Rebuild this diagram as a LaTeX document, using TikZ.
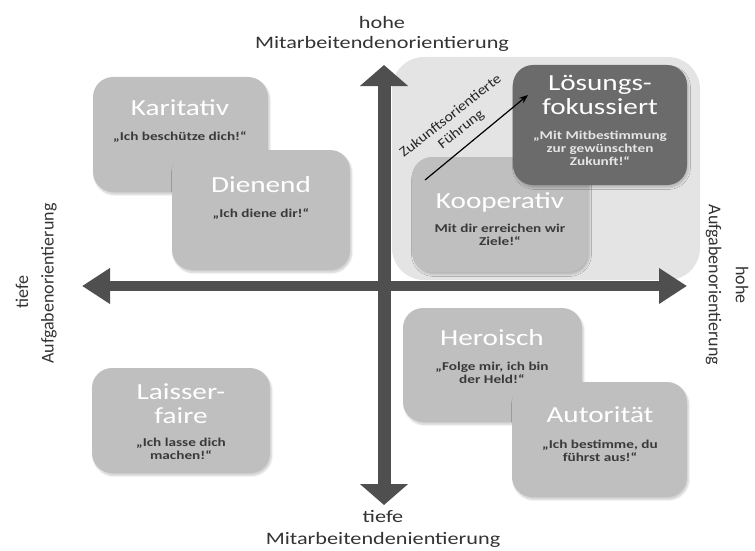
\documentclass[tikz,border=0pt]{standalone}
\usepackage{fontspec}
\setmainfont{Carlito}[FakeStretch=1.27]
\newfontfamily\plainfont{Carlito}
\newfontfamily\diagfont{Carlito}[FakeStretch=1.14]
\usepackage{xcolor}
\usetikzlibrary{arrows.meta,shadows.blur}

\definecolor{boxgray}{HTML}{BFBFBF}
\definecolor{zonegray}{HTML}{E4E4E4}
\definecolor{darkbox}{HTML}{6B6B6B}
\definecolor{axisgray}{HTML}{4F4F4F}
\definecolor{quotegray}{HTML}{3A3A3A}

\tikzset{
  stylebox/.style={fill=boxgray, rounded corners=20pt, inner sep=0pt,
    minimum width=176pt, minimum height=115pt,
    blur shadow={shadow xshift=1.5pt, shadow yshift=-2.5pt, shadow opacity=20, shadow blur steps=6}},
  zonebox/.style={fill=zonegray, rounded corners=32pt, inner sep=0pt},
  boxtitle/.style={text=white, align=center, inner sep=0pt, font=\fontsize{23}{24}\selectfont},
  boxquote/.style={text=quotegray, align=center, inner sep=0pt, font=\bfseries\fontsize{12}{13}\selectfont},
  axislabel/.style={text=black!80, align=center, inner sep=0pt, font=\fontsize{17.5}{20}\selectfont},
  sidelabel/.style={text=black!80, inner sep=0pt, font=\plainfont\fontsize{18}{20}\selectfont},
  axisarrow/.style={draw=axisgray}
}

\begin{document}
\begin{tikzpicture}[x=1pt,y=-1pt]
  \useasboundingbox (0,0) rectangle (755,551);

  \node[zonebox, minimum width=308pt, minimum height=223pt] (zone) at (546,168.5) {};
  \node[stylebox] (koop) at (500,214.5) {};
  \node[boxtitle] (koopT) at (500,202) {Kooperativ};
  \node[boxquote] (koopQ) at (500,235) {Mit dir erreichen wir\\Ziele!“};
  \node[stylebox, fill=darkbox, minimum width=174pt, minimum height=120pt] (loes) at (600,125) {};
  \node[boxtitle] (loesT) at (600,95) {Lösungs-\\fokussiert};
  \node[boxquote, text=black!10] (loesQ) at (600,148.5) {„Mit Mitbestimmung\\zur gewünschten\\Zukunft!“};
  \coordinate (futA) at (425,180);
  \coordinate (futB) at (528,95);
  \draw[-{Stealth[length=9pt,width=7pt]}, line width=1.2pt] (futA) -- (futB);
  \node[rotate=38.3, align=center, text=black!85, font=\diagfont\fontsize{14}{17}\selectfont] (futL) at (456,123) {Zukunftsorientierte\\Führung};

  \node[stylebox, minimum width=175pt] (kari) at (180.5,134.5) {};
  \node[boxtitle] (kariT) at (180,108) {Karitativ};
  \node[boxquote] (kariQ) at (180,137) {„Ich beschütze dich!“};
  \node[stylebox, minimum width=178pt, minimum height=120pt] (dien) at (261,210) {};
  \node[boxtitle] (dienT) at (261,185) {Dienend};
  \node[boxquote] (dienQ) at (261,214) {„Ich diene dir!“};

  \node[stylebox, minimum width=178pt, minimum height=105pt] (lais) at (181,420.5) {};
  \node[boxtitle] (laisT) at (181,403.5) {Laisser-\\faire};
  \node[boxquote] (laisQ) at (181,448.5) {„Ich lasse dich\\machen!“};

  \node[stylebox, minimum width=179pt, minimum height=114pt] (hero) at (492.5,365) {};
  \node[boxtitle] (heroT) at (492,338) {Heroisch};
  \node[boxquote] (heroQ) at (492,372.5) {„Folge mir, ich bin\\der Held!“};
  \node[stylebox, minimum width=175pt] (auto) at (599.5,439.5) {};
  \node[boxtitle] (autoT) at (600,415) {Autorität};
  \node[boxquote] (autoQ) at (600,451) {„Ich bestimme, du\\führst aus!“};

  \coordinate (west) at (82,286);
  \coordinate (east) at (687,286);
  \coordinate (north) at (384,65);
  \coordinate (south) at (384,505);
  \draw[axisarrow, line width=10pt, {Triangle[length=28pt,width=34pt]}-{Triangle[length=28pt,width=34pt]}] (west) -- (east);
  \draw[axisarrow, line width=13pt, {Triangle[length=21pt,width=47pt]}-{Triangle[length=21pt,width=47pt]}] (south) -- (north);

  \node[axislabel] (topL) at (382,34) {hohe\\Mitarbeitendenorientierung};
  \node[axislabel, font=\fontsize{17.5}{22}\selectfont] (botL) at (383,529) {tiefe\\Mitarbeitendenientierung};
  \node[sidelabel, rotate=90] (leftA) at (22,292) {tiefe};
  \node[sidelabel, rotate=90] (leftB) at (49,283.5) {Aufgabenorientierung};
  \node[sidelabel, rotate=-90] (rightA) at (742,285) {hohe};
  \node[sidelabel, rotate=-90] (rightB) at (713.5,285) {Aufgabenorientierung};
\end{tikzpicture}
\end{document}
